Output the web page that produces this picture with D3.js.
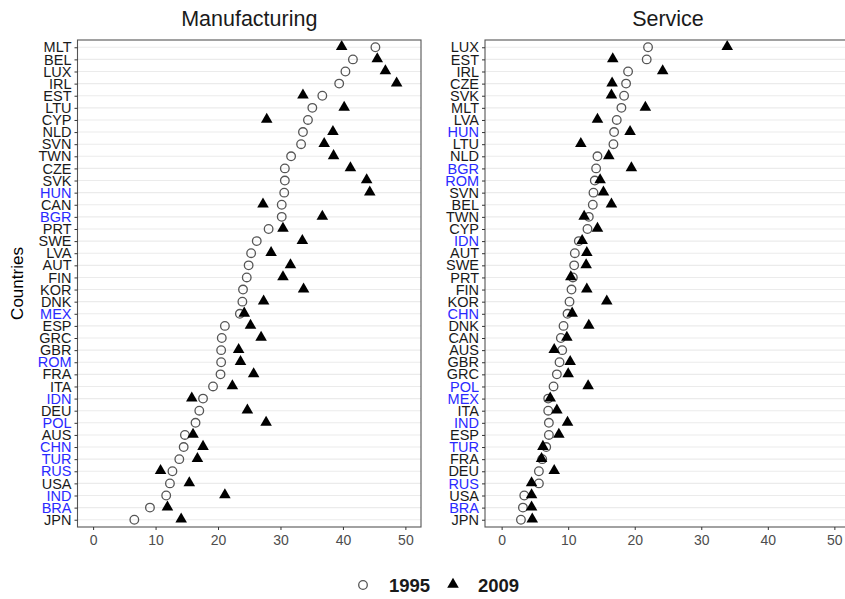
<!DOCTYPE html>
<html>
<head>
<meta charset="utf-8">
<script src="https://cdn.jsdelivr.net/npm/d3@7"></script>
<style>
  html, body { margin: 0; padding: 0; background: #fff; }
  svg { display: block; font-family: "Liberation Sans", Arial, sans-serif; }
</style>
</head>
<body>
<svg id="chart" width="845" height="599"></svg>
<script>
// ---- Data ----
const mfgCountries = ["MLT","BEL","LUX","IRL","EST","LTU","CYP","NLD","SVN","TWN","CZE","SVK","HUN","CAN","BGR","PRT","SWE","LVA","AUT","FIN","KOR","DNK","MEX","ESP","GRC","GBR","ROM","FRA","ITA","IDN","DEU","POL","AUS","CHN","TUR","RUS","USA","IND","BRA","JPN"];
const mfg1995 = [45.2,41.6,40.4,39.4,36.7,35.1,34.4,33.6,33.3,31.7,30.7,30.7,30.6,30.2,30.2,28.1,26.2,25.3,24.9,24.6,24.0,23.9,23.5,21.1,20.6,20.5,20.5,20.4,19.2,17.6,17.0,16.4,14.7,14.5,13.8,12.7,12.3,11.7,9.1,6.6];
const mfg2009 = [39.8,45.5,46.8,48.6,33.6,40.2,27.8,38.4,37.0,38.5,41.2,43.8,44.3,27.2,36.7,30.4,33.5,28.5,31.6,30.4,33.7,27.3,24.2,25.2,26.9,23.3,23.6,25.7,22.3,15.8,24.7,27.7,16.0,17.6,16.7,10.8,15.4,21.1,11.9,14.1];

const srvCountries = ["LUX","EST","IRL","CZE","SVK","MLT","LVA","HUN","LTU","NLD","BGR","ROM","SVN","BEL","TWN","CYP","IDN","AUT","SWE","PRT","FIN","KOR","CHN","DNK","CAN","AUS","GBR","GRC","POL","MEX","ITA","IND","ESP","TUR","FRA","DEU","RUS","USA","BRA","JPN"];
const srv1995 = [22.0,21.8,19.0,18.7,18.4,18.0,17.3,16.9,16.8,14.4,14.2,14.0,13.8,13.7,13.1,12.9,11.6,11.0,10.9,10.7,10.5,10.2,9.9,9.3,8.9,9.1,8.7,8.3,7.8,7.0,7.0,7.1,7.1,6.7,6.1,5.6,5.6,3.4,3.2,2.9];
const srv2009 = [33.9,16.7,24.2,16.6,16.5,21.6,14.4,19.3,11.9,16.1,19.5,14.8,15.3,16.5,12.4,14.4,12.1,12.8,12.7,10.4,12.8,15.8,10.6,13.1,9.8,7.9,10.3,10.0,13.0,7.3,8.3,9.9,8.6,6.2,6.0,7.9,4.5,4.5,4.5,4.6];

const highlighted = ["HUN","BGR","ROM","IDN","CHN","POL","MEX","IND","TUR","RUS","BRA"];
const xTicks = [0,10,20,30,40,50];
const panelTitles = ["Manufacturing","Service"];
const yearLabels = ["1995","2009"];
const axisTitle = "Countries";

// ---- Layout ----
const svg = d3.select("#chart");
const topY = 40, bottomY = 527;
const panels = [
  { title: panelTitles[0], countries: mfgCountries, v1: mfg1995, v2: mfg2009, x0: 77.5, x1: 421 },
  { title: panelTitles[1], countries: srvCountries, v1: srv1995, v2: srv2009, x0: 485, x1: 851 }
];

const triangle = d3.symbol().type(d3.symbolTriangle).size(58);

panels.forEach(p => {
  const x = d3.scaleLinear().domain([-2.5, 52.5]).range([p.x0, p.x1]);
  const y = d3.scalePoint().domain(p.countries).range([topY, bottomY]).padding(0.6);
  const g = svg.append("g");

  // gridlines
  g.selectAll("line.grid").data(p.countries).join("line")
    .attr("x1", p.x0).attr("x2", p.x1)
    .attr("y1", d => y(d)).attr("y2", d => y(d))
    .attr("stroke", "#ebebeb").attr("stroke-width", 1.1);

  // points 1995
  g.selectAll("circle.p1").data(p.countries).join("circle")
    .attr("cx", (d,i) => x(p.v1[i])).attr("cy", d => y(d)).attr("r", 4.3)
    .attr("fill", "none").attr("stroke", "#555").attr("stroke-width", 1.3);

  // points 2009
  g.selectAll("path.p2").data(p.countries).join("path")
    .attr("d", triangle)
    .attr("transform", (d,i) => `translate(${x(p.v2[i])},${y(d) - 0.5})`)
    .attr("fill", "#000");

  // border
  g.append("rect").attr("x", p.x0).attr("y", topY)
    .attr("width", p.x1 - p.x0).attr("height", bottomY - topY)
    .attr("fill", "none").attr("stroke", "#555").attr("stroke-width", 1.1);

  // x axis
  const xa = g.append("g").attr("transform", `translate(0,${bottomY})`)
    .call(d3.axisBottom(x).tickValues(xTicks).tickSize(3).tickPadding(5));
  xa.select(".domain").remove();
  xa.selectAll(".tick line").attr("stroke", "#333");
  xa.selectAll(".tick text").attr("fill", "#4d4d4d").style("font-size", "14px")
    .style("font-family", "Liberation Sans, Arial, sans-serif");

  // y axis
  const ya = g.append("g").attr("transform", `translate(${p.x0},0)`)
    .call(d3.axisLeft(y).tickSize(3).tickPadding(3));
  ya.select(".domain").remove();
  ya.selectAll(".tick line").attr("stroke", "#333");
  ya.selectAll(".tick text")
    .attr("fill", d => highlighted.includes(d) ? "#2a2aff" : "#1a1a1a")
    .style("font-size", "14.5px")
    .style("font-family", "Liberation Sans, Arial, sans-serif");

  // title
  svg.append("text").attr("x", (p.x0 + p.x1) / 2).attr("y", 26)
    .attr("text-anchor", "middle").attr("fill", "#1a1a1a")
    .style("font-size", "21.5px").text(p.title);
});

// y-axis title
svg.append("text").attr("transform", `translate(23,${(topY+bottomY)/2}) rotate(-90)`)
  .attr("text-anchor", "middle").attr("fill", "#000")
  .style("font-size", "17px").text(axisTitle);

// legend
const lg = svg.append("g");
lg.append("circle").attr("cx", 363).attr("cy", 585).attr("r", 4.3)
  .attr("fill", "none").attr("stroke", "#555").attr("stroke-width", 1.3);
lg.append("text").attr("x", 389).attr("y", 591.5).style("font-size", "18.5px")
  .style("font-weight", "bold").attr("fill", "#1a1a1a").text(yearLabels[0]);
lg.append("path").attr("d", triangle).attr("transform", "translate(453,584.5)").attr("fill", "#000");
lg.append("text").attr("x", 478).attr("y", 591.5).style("font-size", "18.5px")
  .style("font-weight", "bold").attr("fill", "#1a1a1a").text(yearLabels[1]);
</script>
</body>
</html>
